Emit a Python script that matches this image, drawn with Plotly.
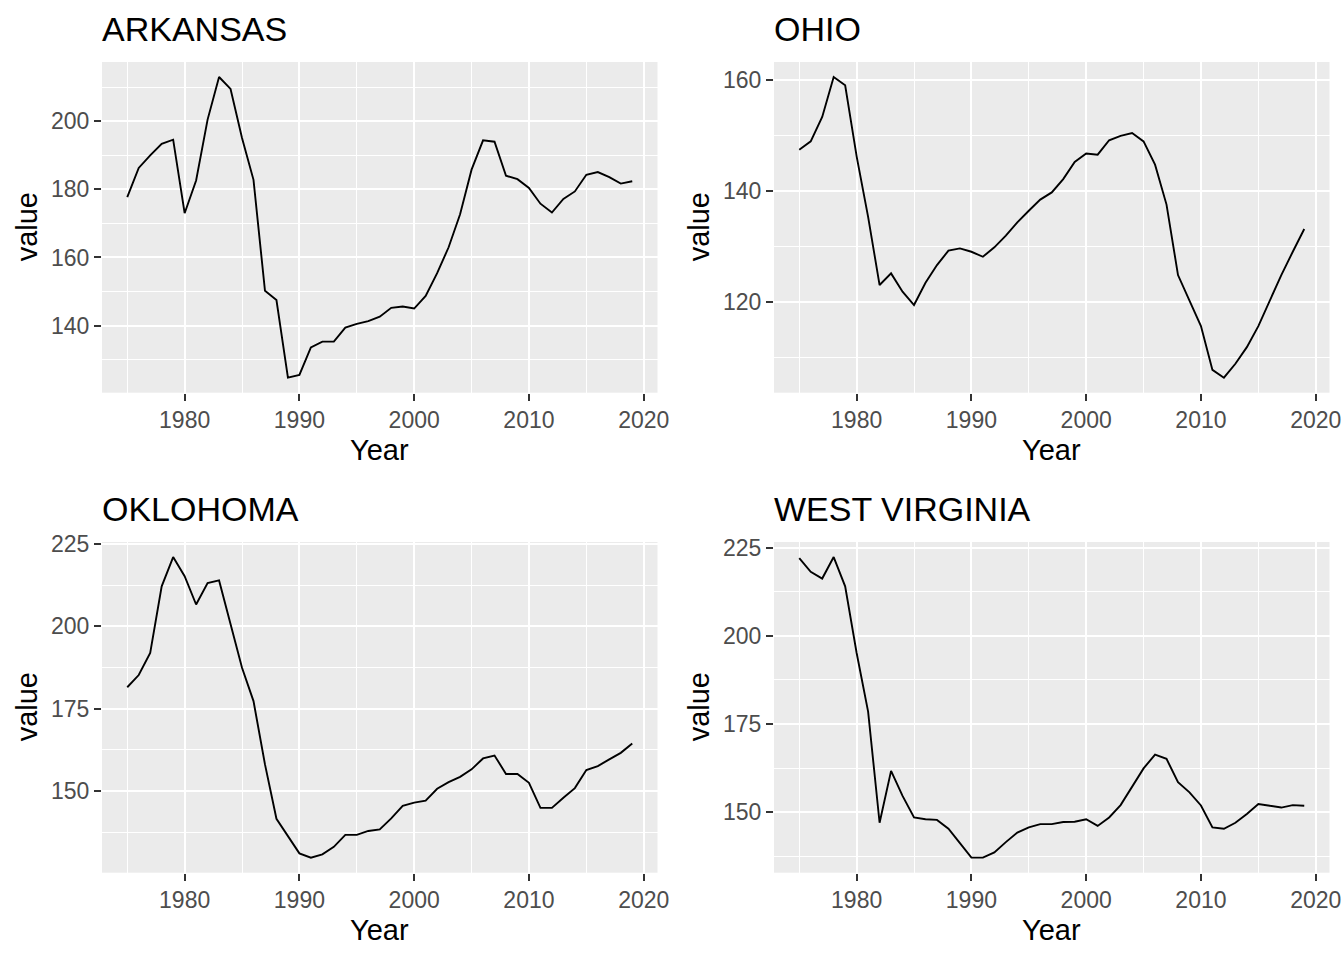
import plotly.graph_objects as go

years = list(range(1975, 2020))

arkansas = [177.7, 186.3, 190.0, 193.4, 194.6, 173.0, 182.6, 200.5, 213.0, 209.5,
            195.1, 182.8, 150.2, 147.5, 124.7, 125.5, 133.6, 135.3, 135.3, 139.4,
            140.5, 141.3, 142.6, 145.2, 145.6, 145.0, 148.7, 155.4, 163.0, 172.7,
            185.8, 194.4, 194.0, 184.0, 183.0, 180.4, 175.8, 173.2, 177.2, 179.4,
            184.3, 185.1, 183.6, 181.7, 182.4]

ohio = [147.4, 148.9, 153.3, 160.5, 159.0, 146.2, 135.3, 123.0, 125.1, 121.8,
        119.4, 123.4, 126.6, 129.2, 129.6, 129.0, 128.1, 129.8, 131.9, 134.3,
        136.4, 138.4, 139.7, 142.1, 145.2, 146.7, 146.5, 149.1, 149.9, 150.4,
        148.9, 144.7, 137.5, 124.8, 120.2, 115.6, 107.7, 106.3, 108.8, 111.8,
        115.6, 120.2, 124.8, 129.0, 133.1]

oklahoma = [181.5, 185.2, 191.9, 212.1, 221.0, 215.2, 206.6, 213.1, 213.9, 201.0,
            187.4, 177.3, 158.1, 141.6, 136.4, 131.1, 129.8, 130.8, 133.1, 136.7,
            136.7, 137.9, 138.4, 141.7, 145.5, 146.5, 147.1, 150.7, 152.7, 154.3,
            156.6, 159.9, 160.8, 155.2, 155.2, 152.5, 144.9, 144.9, 148.0, 150.9,
            156.4, 157.6, 159.6, 161.6, 164.4]

west_virginia = [222.0, 218.1, 216.2, 222.3, 214.0, 195.1, 178.5, 147.0, 161.7, 154.6,
                 148.5, 148.0, 147.8, 145.3, 141.2, 137.1, 137.1, 138.6, 141.5, 144.2,
                 145.7, 146.6, 146.6, 147.2, 147.3, 148.0, 146.1, 148.5, 152.0, 157.2,
                 162.4, 166.3, 165.1, 158.5, 155.6, 151.9, 145.7, 145.3, 147.0, 149.5,
                 152.3, 151.8, 151.3, 152.0, 151.8]

titles = ["ARKANSAS", "OHIO", "OKLOHOMA", "WEST VIRGINIA"]
series = [arkansas, ohio, oklahoma, west_virginia]
x_ticks = [1980, 1990, 2000, 2010, 2020]
y_ticks = [[140, 160, 180, 200], [120, 140, 160], [150, 175, 200, 225], [150, 175, 200, 225]]
y_minor = [10, 10, 12.5, 12.5]

W, H = 1344, 960
cols = [(102, 657.5), (774, 1329.5)]
rows = [(62, 392.7), (542, 872.7)]

FONT = "Liberation Sans, Arial, sans-serif"
fig = go.Figure()
layout = dict(
    width=W, height=H, margin=dict(l=0, r=0, t=0, b=0, autoexpand=False),
    paper_bgcolor="white", plot_bgcolor="#EBEBEB", showlegend=False,
    font=dict(family=FONT),
)
annotations = []

def expand(vals):
    lo, hi = min(vals), max(vals)
    d = (hi - lo) * 0.05
    return [lo - d, hi + d]

for i, (title, vals) in enumerate(zip(titles, series)):
    r, c = divmod(i, 2)
    x0, x1 = cols[c]
    y0, y1 = rows[r]
    sfx = "" if i == 0 else str(i + 1)
    xa = "xaxis" + sfx
    ya = "yaxis" + sfx
    fig.add_trace(go.Scatter(x=years, y=vals, mode="lines",
                             line=dict(color="black", width=1.9),
                             xaxis="x" + sfx, yaxis="y" + sfx, hoverinfo="skip"))
    layout[xa] = dict(
        domain=[x0 / W, x1 / W], anchor="y" + sfx, range=expand(years),
        tickmode="array", tickvals=x_ticks, ticktext=[str(t) for t in x_ticks],
        ticks="outside", ticklen=7, tickwidth=1.5, tickcolor="#333333",
        tickfont=dict(size=23, color="#4D4D4D", family=FONT),
        showgrid=True, gridcolor="white", gridwidth=2.4,
        minor=dict(tick0=1975, dtick=5, showgrid=True, gridcolor="white", gridwidth=1.2, ticks=""),
        zeroline=False, showline=False, fixedrange=True, automargin=False,
    )
    layout[ya] = dict(
        domain=[1 - y1 / H, 1 - y0 / H], anchor="x" + sfx, range=expand(vals),
        tickmode="array", tickvals=y_ticks[i], ticktext=[str(t) for t in y_ticks[i]],
        ticks="outside", ticklen=7, tickwidth=1.5, tickcolor="#333333",
        tickfont=dict(size=23, color="#4D4D4D", family=FONT),
        showgrid=True, gridcolor="white", gridwidth=2.4,
        minor=dict(tick0=0, dtick=y_minor[i], showgrid=True, gridcolor="white", gridwidth=1.2, ticks=""),
        zeroline=False, showline=False, fixedrange=True, automargin=False,
    )
    annotations.append(dict(text=title, xref="paper", yref="paper",
                            x=(x0 - 2) / W, y=1 - (y0 - 33) / H, xanchor="left", yanchor="middle",
                            showarrow=False, font=dict(size=34, color="black", family=FONT)))
    annotations.append(dict(text="Year", xref="paper", yref="paper",
                            x=(x0 + x1) / 2 / W, y=1 - (y1 + 57) / H, xanchor="center", yanchor="middle",
                            showarrow=False, font=dict(size=29, color="black", family=FONT)))
    annotations.append(dict(text="value", xref="paper", yref="paper",
                            x=(x0 - 75) / W, y=1 - (y0 + y1) / 2 / H, xanchor="center", yanchor="middle",
                            textangle=-90, showarrow=False,
                            font=dict(size=29, color="black", family=FONT)))

layout["annotations"] = annotations
fig.update_layout(**layout)
fig.write_html("out.html")
